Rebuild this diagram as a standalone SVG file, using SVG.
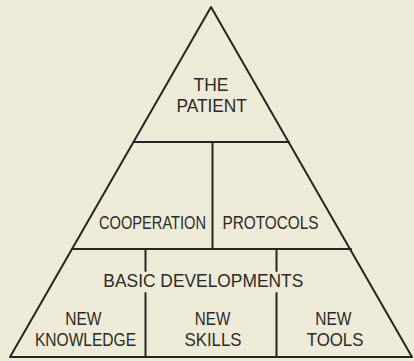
<svg xmlns="http://www.w3.org/2000/svg" width="414" height="361" viewBox="0 0 414 361">
<style>
.ln{stroke:#262521;stroke-width:2;fill:none;stroke-linecap:round;stroke-linejoin:round}
.t{font-family:"Liberation Sans",Arial,sans-serif;font-size:19px;fill:#2b2a26;text-anchor:middle}
</style>
<rect width="414" height="361" fill="#eeead8"/>
<g id="connectors">
<path class="ln" d="M211 7 L10 357 L412 357 Z"/>
<line class="ln" x1="134" y1="142" x2="289" y2="142"/>
<line class="ln" x1="72" y1="249" x2="351" y2="249"/>
<line class="ln" x1="212.5" y1="142" x2="212.5" y2="249"/>
<line class="ln" x1="145.5" y1="249" x2="145.5" y2="271"/>
<line class="ln" x1="145.5" y1="293" x2="145.5" y2="357"/>
<line class="ln" x1="276.5" y1="249" x2="276.5" y2="271"/>
<line class="ln" x1="276.5" y1="293" x2="276.5" y2="357"/>
</g>
<g id="patient">
<text class="t" transform="translate(211 91) scale(0.92 1)">THE</text>
<text class="t" transform="translate(211.7 112) scale(0.91 1)">PATIENT</text>
</g>
<g id="cooperation">
<text class="t" transform="translate(152.5 229) scale(0.77 1)">COOPERATION</text>
</g>
<g id="protocols">
<text class="t" transform="translate(270.5 229) scale(0.81 1)">PROTOCOLS</text>
</g>
<g id="basic-developments">
<text class="t" transform="translate(203.3 287) scale(0.915 1)">BASIC DEVELOPMENTS</text>
</g>
<g id="new-knowledge">
<text class="t" transform="translate(83.3 325) scale(0.82 1)">NEW</text>
<text class="t" transform="translate(85.5 346) scale(0.82 1)">KNOWLEDGE</text>
</g>
<g id="new-skills">
<text class="t" transform="translate(212.5 325) scale(0.8 1)">NEW</text>
<text class="t" transform="translate(213 346) scale(0.885 1)">SKILLS</text>
</g>
<g id="new-tools">
<text class="t" transform="translate(333.3 325) scale(0.82 1)">NEW</text>
<text class="t" transform="translate(335 346) scale(0.885 1)">TOOLS</text>
</g>
</svg>
